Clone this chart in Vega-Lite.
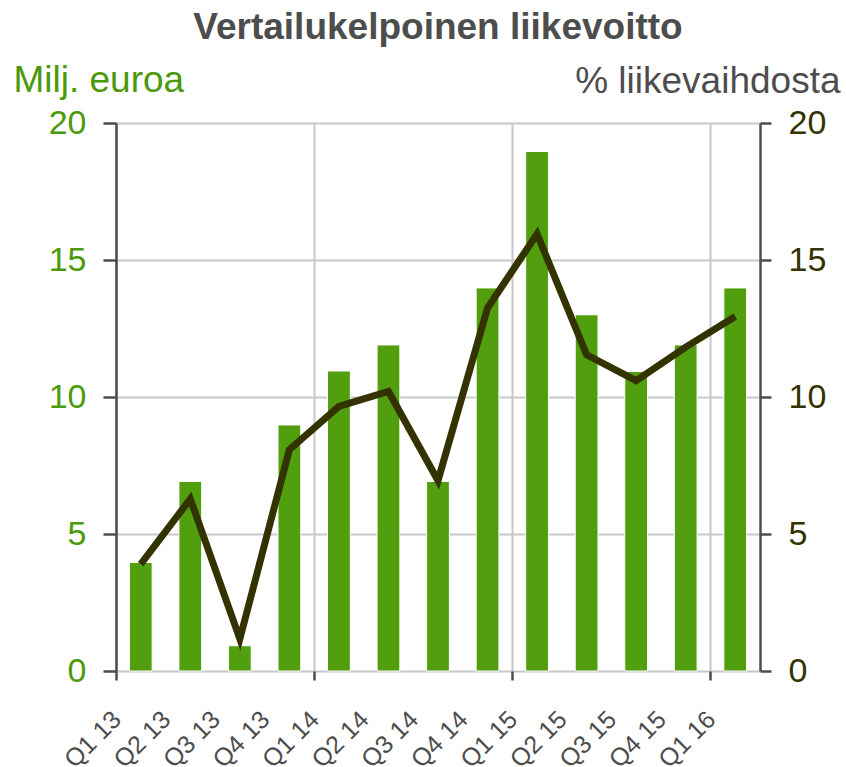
{
  "$schema": "https://vega.github.io/schema/vega-lite/v6.json",
  "width": 644,
  "height": 548,
  "autosize": "none",
  "padding": {"left": 116, "top": 123, "right": 86, "bottom": 96},
  "config": {
    "font": "Liberation Sans",
    "view": {"stroke": null},
    "axis": {"labelFlush": false, "labelOverlap": false, "labelBound": false}
  },
  "title": {
    "text": "Vertailukelpoinen liikevoitto",
    "font": "Liberation Sans",
    "fontSize": 37,
    "fontWeight": "bold",
    "color": "#4d4d4d",
    "anchor": "middle",
    "frame": "group",
    "offset": 14
  },
  "data": {
    "values": [
      {"q": "Q1 13", "eur": 3.96, "pct": 3.9},
      {"q": "Q2 13", "eur": 6.92, "pct": 6.28},
      {"q": "Q3 13", "eur": 0.92, "pct": 1.17},
      {"q": "Q4 13", "eur": 8.98, "pct": 8.08},
      {"q": "Q1 14", "eur": 10.95, "pct": 9.66},
      {"q": "Q2 14", "eur": 11.9, "pct": 10.2},
      {"q": "Q3 14", "eur": 6.92, "pct": 6.95},
      {"q": "Q4 14", "eur": 13.98, "pct": 13.25},
      {"q": "Q1 15", "eur": 18.96, "pct": 15.95},
      {"q": "Q2 15", "eur": 13.0, "pct": 11.54},
      {"q": "Q3 15", "eur": 10.93, "pct": 10.6},
      {"q": "Q4 15", "eur": 11.9, "pct": 11.82},
      {"q": "Q1 16", "eur": 13.98, "pct": 12.94}
    ]
  },
  "encoding": {
    "x": {
      "field": "q",
      "type": "ordinal",
      "sort": null,
      "scale": {"paddingInner": 0.54, "paddingOuter": 0.27},
      "axis": {
        "title": null,
        "bandPosition": 0,
        "tickOffset": -13.38,
        "labelOffset": -11,
        "labelAngle": -45,
        "labelAlign": "right",
        "labelBaseline": "middle",
        "labelFont": "Liberation Sans",
        "labelFontSize": 25,
        "labelColor": "#4d4d4d",
        "labelPadding": 35,
        "ticks": true,
        "tickSize": 9,
        "tickWidth": 2.5,
        "tickColor": "#4d4d4d",
        "tickOpacity": {"condition": {"test": "indexof(datum.value, 'Q1') === 0", "value": 1}, "value": 0},
        "grid": true,
        "gridColor": "#c8c8c8",
        "gridWidth": 2,
        "gridOpacity": {"condition": {"test": "indexof(datum.value, 'Q1') === 0", "value": 1}, "value": 0},
        "domain": false
      }
    }
  },
  "layer": [
    {
      "mark": {"type": "bar", "color": "#519f0e", "stroke": "white", "strokeWidth": 1},
      "encoding": {
        "y": {
          "field": "eur",
          "type": "quantitative",
          "scale": {"domain": [0, 20], "nice": false},
          "axis": {
            "orient": "left",
            "values": [0, 5, 10, 15, 20],
            "title": "Milj. euroa",
            "titleAngle": 0,
            "titleAlign": "left",
            "titleBaseline": "alphabetic",
            "titleX": -103,
            "titleY": -32,
            "titleFont": "Liberation Sans",
            "titleFontSize": 37,
            "titleFontWeight": "normal",
            "titleColor": "#4a9a0a",
            "labelFont": "Liberation Sans",
            "labelFontSize": 34,
            "labelColor": "#4a9a0a",
            "labelPadding": 17,
            "tickSize": 13,
            "tickColor": "#4d4d4d",
            "tickWidth": 2.5,
            "domainColor": "#4d4d4d",
            "domainWidth": 2.5,
            "grid": true,
            "gridColor": "#c8c8c8",
            "gridWidth": 2
          }
        }
      }
    },
    {
      "mark": {"type": "rule", "color": "#4d4d4d", "strokeWidth": 2.5},
      "encoding": {
        "y": {"datum": 0, "type": "quantitative", "scale": {"domain": [0, 20], "nice": false}, "axis": null}
      }
    },
    {
      "mark": {"type": "line", "color": "#333300", "strokeWidth": 7, "strokeJoin": "miter", "strokeCap": "butt"},
      "encoding": {
        "y": {
          "field": "pct",
          "type": "quantitative",
          "scale": {"domain": [0, 20], "nice": false},
          "axis": {
            "orient": "right",
            "values": [0, 5, 10, 15, 20],
            "title": "% liikevaihdosta",
            "titleAngle": 0,
            "titleAlign": "right",
            "titleBaseline": "alphabetic",
            "titleX": 80,
            "titleY": -31,
            "titleFont": "Liberation Sans",
            "titleFontSize": 37,
            "titleFontWeight": "normal",
            "titleColor": "#4d4d4d",
            "labelFont": "Liberation Sans",
            "labelFontSize": 34,
            "labelColor": "#333300",
            "labelPadding": 17,
            "tickSize": 11,
            "tickColor": "#4d4d4d",
            "tickWidth": 2.5,
            "domainColor": "#4d4d4d",
            "domainWidth": 2.5,
            "grid": false
          }
        }
      }
    }
  ],
  "resolve": {"scale": {"y": "independent"}}
}
